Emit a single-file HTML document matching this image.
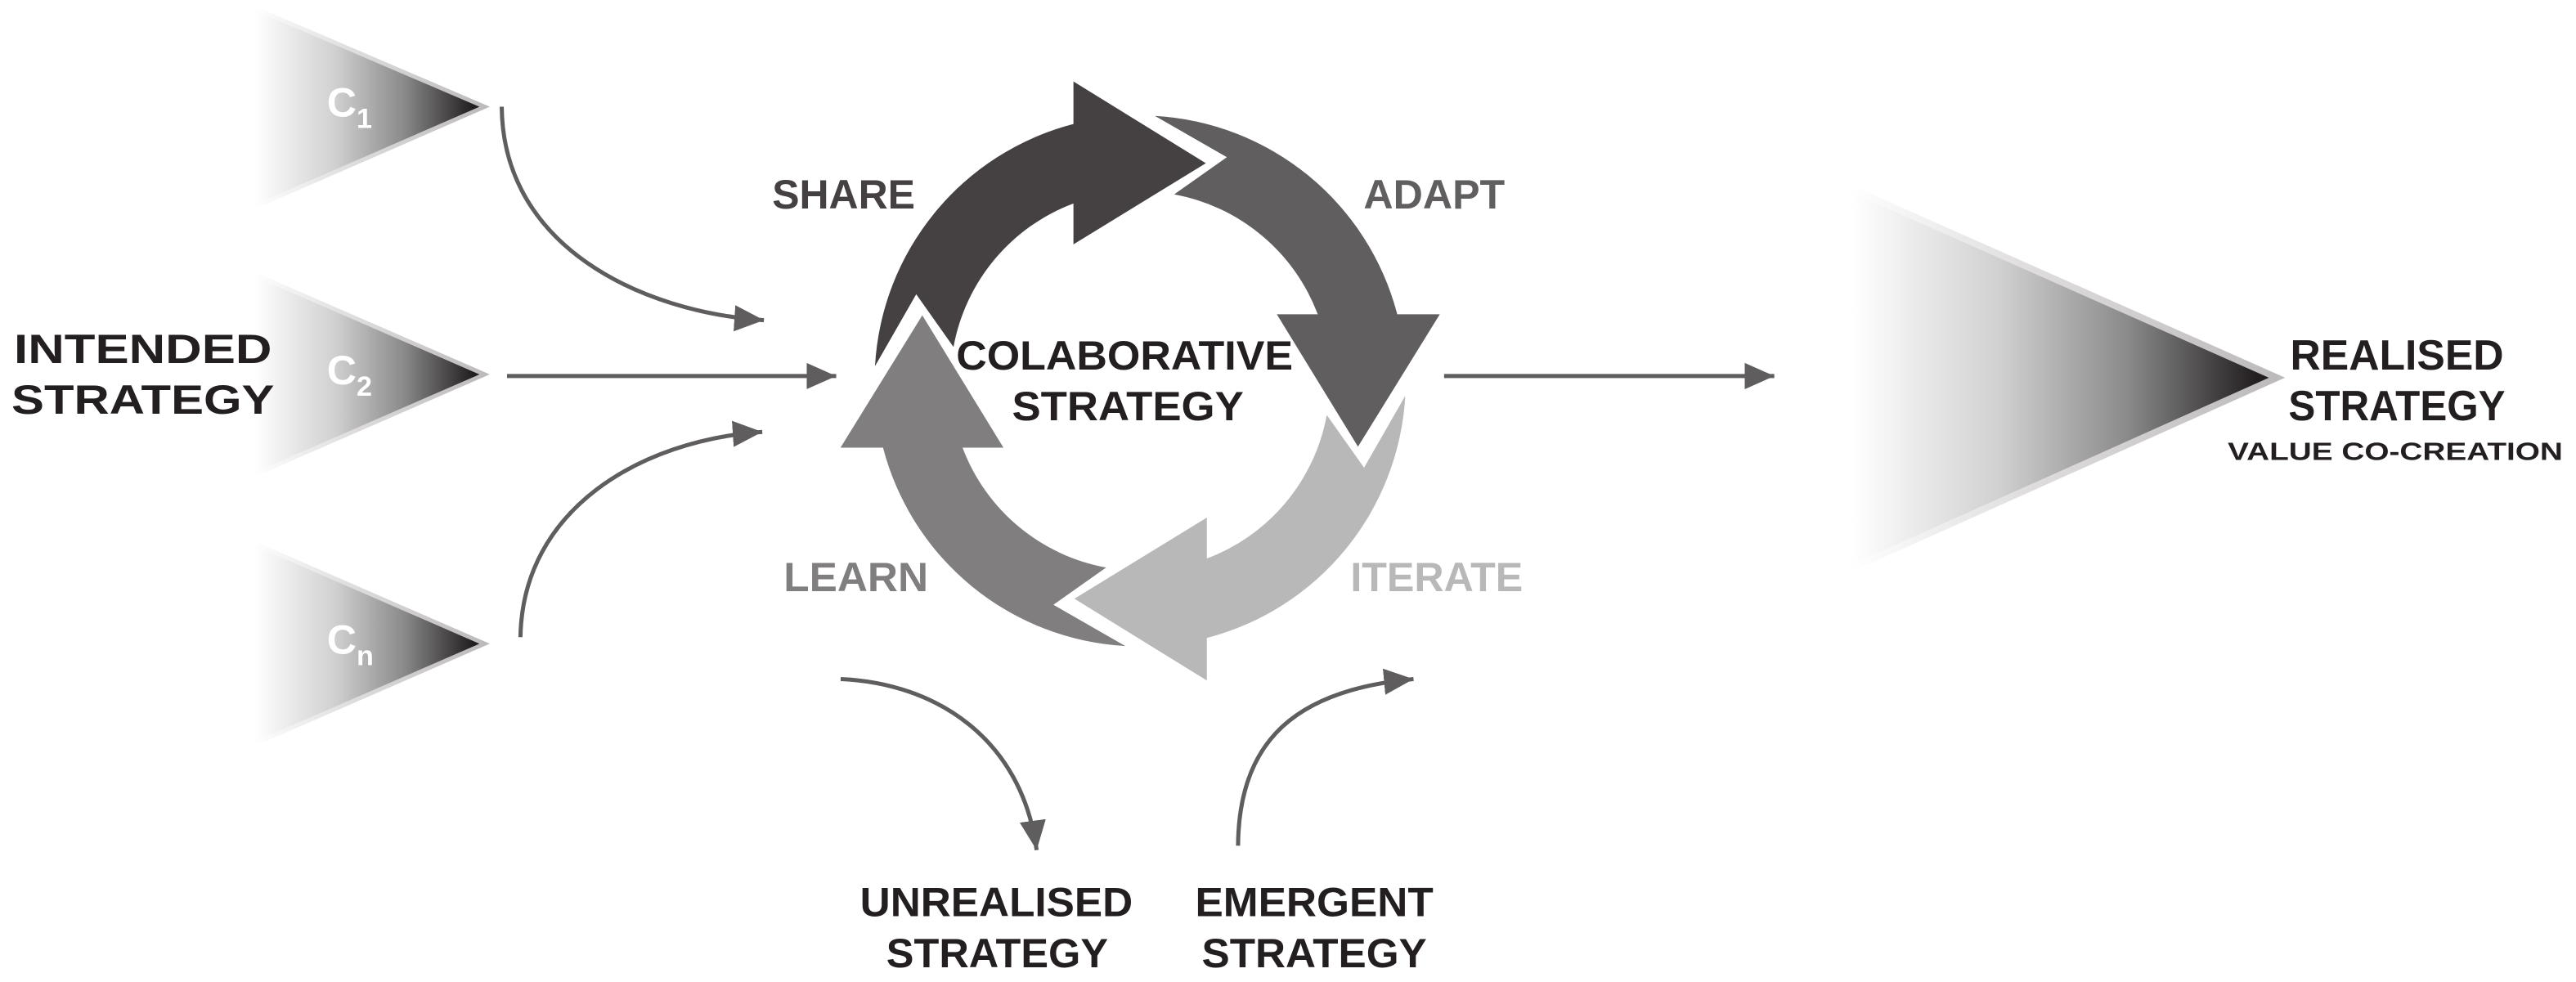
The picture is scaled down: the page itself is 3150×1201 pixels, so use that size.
<!DOCTYPE html>
<html><head><meta charset="utf-8"><style>
html,body{margin:0;padding:0;background:#fff;}
svg{display:block;}
text{font-family:"Liberation Sans",Arial,sans-serif;font-weight:bold;}
</style></head><body>
<svg width="3150" height="1201" viewBox="0 0 1568 598" preserveAspectRatio="none" xmlns="http://www.w3.org/2000/svg">
<defs>
<linearGradient id="gs" gradientUnits="objectBoundingBox" x1="0" y1="0" x2="1" y2="0">
<stop offset="0" stop-color="#fff"/><stop offset="0.35" stop-color="#d0d0d0"/><stop offset="0.65" stop-color="#8a8a8a"/><stop offset="0.95" stop-color="#231f20"/><stop offset="1" stop-color="#231f20"/>
</linearGradient>
<linearGradient id="gb" gradientUnits="objectBoundingBox" x1="0" y1="0" x2="1" y2="0">
<stop offset="0" stop-color="#fff"/><stop offset="0.4" stop-color="#e0dede"/><stop offset="1" stop-color="#bcbaba"/>
</linearGradient>
<marker id="ah" markerUnits="userSpaceOnUse" markerWidth="20" markerHeight="18" refX="18" refY="8" orient="auto">
<path d="M0,0 L18,8 L0,16 z" fill="#5f5d5e"/>
</marker>
<path id="arr" d="M-161.4,-9 A161.7,161.7 0 0 1 -40.6,-156.5 L-40.6,-182.4 L40,-132.6 L-40.6,-83.2 L-40.6,-108.1 A115.5,115.5 0 0 0 -113.6,-20.7 L-136.3,-52.8 Z"/>
</defs>

<polygon points="155,5 295,65 155,126" fill="url(#gs)"/>
<polyline points="155,5 295,65 155,126" fill="none" stroke="url(#gb)" stroke-width="2.5"/>
<polygon points="155,167 295,228 155,289" fill="url(#gs)"/>
<polyline points="155,167 295,228 155,289" fill="none" stroke="url(#gb)" stroke-width="2.5"/>
<polygon points="155,331 295,392 155,453" fill="url(#gs)"/>
<polyline points="155,331 295,392 155,453" fill="none" stroke="url(#gb)" stroke-width="2.5"/>

<text x="199" y="71" font-size="25" fill="#fff">C<tspan font-size="17" dy="7">1</tspan></text>
<text x="199" y="234" font-size="25" fill="#fff">C<tspan font-size="17" dy="7">2</tspan></text>
<text x="199" y="398" font-size="25" fill="#fff">C<tspan font-size="17" dy="7">n</tspan></text>

<text x="87" y="221" font-size="25" fill="#231f20" text-anchor="middle" textLength="157" lengthAdjust="spacingAndGlyphs">INTENDED</text>
<text x="87" y="252" font-size="25" fill="#231f20" text-anchor="middle" textLength="160" lengthAdjust="spacingAndGlyphs">STRATEGY</text>

<g fill="none" stroke="#5f5d5e" stroke-width="2.5">
<path d="M305.4,65 C306,150 390,190 465,195" marker-end="url(#ah)"/>
<path d="M308.6,229 L509,229" marker-end="url(#ah)"/>
<path d="M316.8,388 C318,310 390,268 464,263" marker-end="url(#ah)"/>
<path d="M879,229 L1080,229" marker-end="url(#ah)"/>
<path d="M511.7,413.5 C570,416 622,450 631,517.7" marker-end="url(#ah)"/>
<path d="M753.6,515 C754,450 790,420 860.4,413.5" marker-end="url(#ah)"/>
</g>

<g transform="translate(694,232)">
<use href="#arr" fill="#454142"/>
<use href="#arr" fill="#605e5f" transform="rotate(90)"/>
<use href="#arr" fill="#b8b8b8" transform="rotate(180)"/>
<use href="#arr" fill="#807e7f" transform="rotate(270)"/>
</g>

<text x="470" y="127" font-size="25" fill="#454142" textLength="87" lengthAdjust="spacingAndGlyphs">SHARE</text>
<text x="830" y="127" font-size="25" fill="#605e5f" textLength="86" lengthAdjust="spacingAndGlyphs">ADAPT</text>
<text x="477" y="360" font-size="25" fill="#807e7f" textLength="88" lengthAdjust="spacingAndGlyphs">LEARN</text>
<text x="822" y="360" font-size="25" fill="#b8b8b8" textLength="105" lengthAdjust="spacingAndGlyphs">ITERATE</text>

<text x="684.5" y="225" font-size="25" fill="#231f20" text-anchor="middle" textLength="205" lengthAdjust="spacingAndGlyphs">COLABORATIVE</text>
<text x="686.5" y="256" font-size="25" fill="#231f20" text-anchor="middle" textLength="141" lengthAdjust="spacingAndGlyphs">STRATEGY</text>

<polygon points="1127,115 1386,230 1127,346" fill="url(#gs)"/>
<polyline points="1127,115 1386,230 1127,346" fill="none" stroke="url(#gb)" stroke-width="4"/>

<text x="1459" y="225" font-size="26" fill="#231f20" text-anchor="middle" textLength="130" lengthAdjust="spacingAndGlyphs">REALISED</text>
<text x="1459" y="256" font-size="26" fill="#231f20" text-anchor="middle" textLength="132" lengthAdjust="spacingAndGlyphs">STRATEGY</text>
<text x="1458" y="280" font-size="15" fill="#231f20" text-anchor="middle" textLength="204" lengthAdjust="spacingAndGlyphs">VALUE CO-CREATION</text>

<text x="606.5" y="558" font-size="25" fill="#231f20" text-anchor="middle" textLength="166" lengthAdjust="spacingAndGlyphs">UNREALISED</text>
<text x="607" y="589" font-size="25" fill="#231f20" text-anchor="middle" textLength="135" lengthAdjust="spacingAndGlyphs">STRATEGY</text>
<text x="800" y="558" font-size="25" fill="#231f20" text-anchor="middle" textLength="145" lengthAdjust="spacingAndGlyphs">EMERGENT</text>
<text x="800" y="589" font-size="25" fill="#231f20" text-anchor="middle" textLength="137" lengthAdjust="spacingAndGlyphs">STRATEGY</text>
</svg>
</body></html>
